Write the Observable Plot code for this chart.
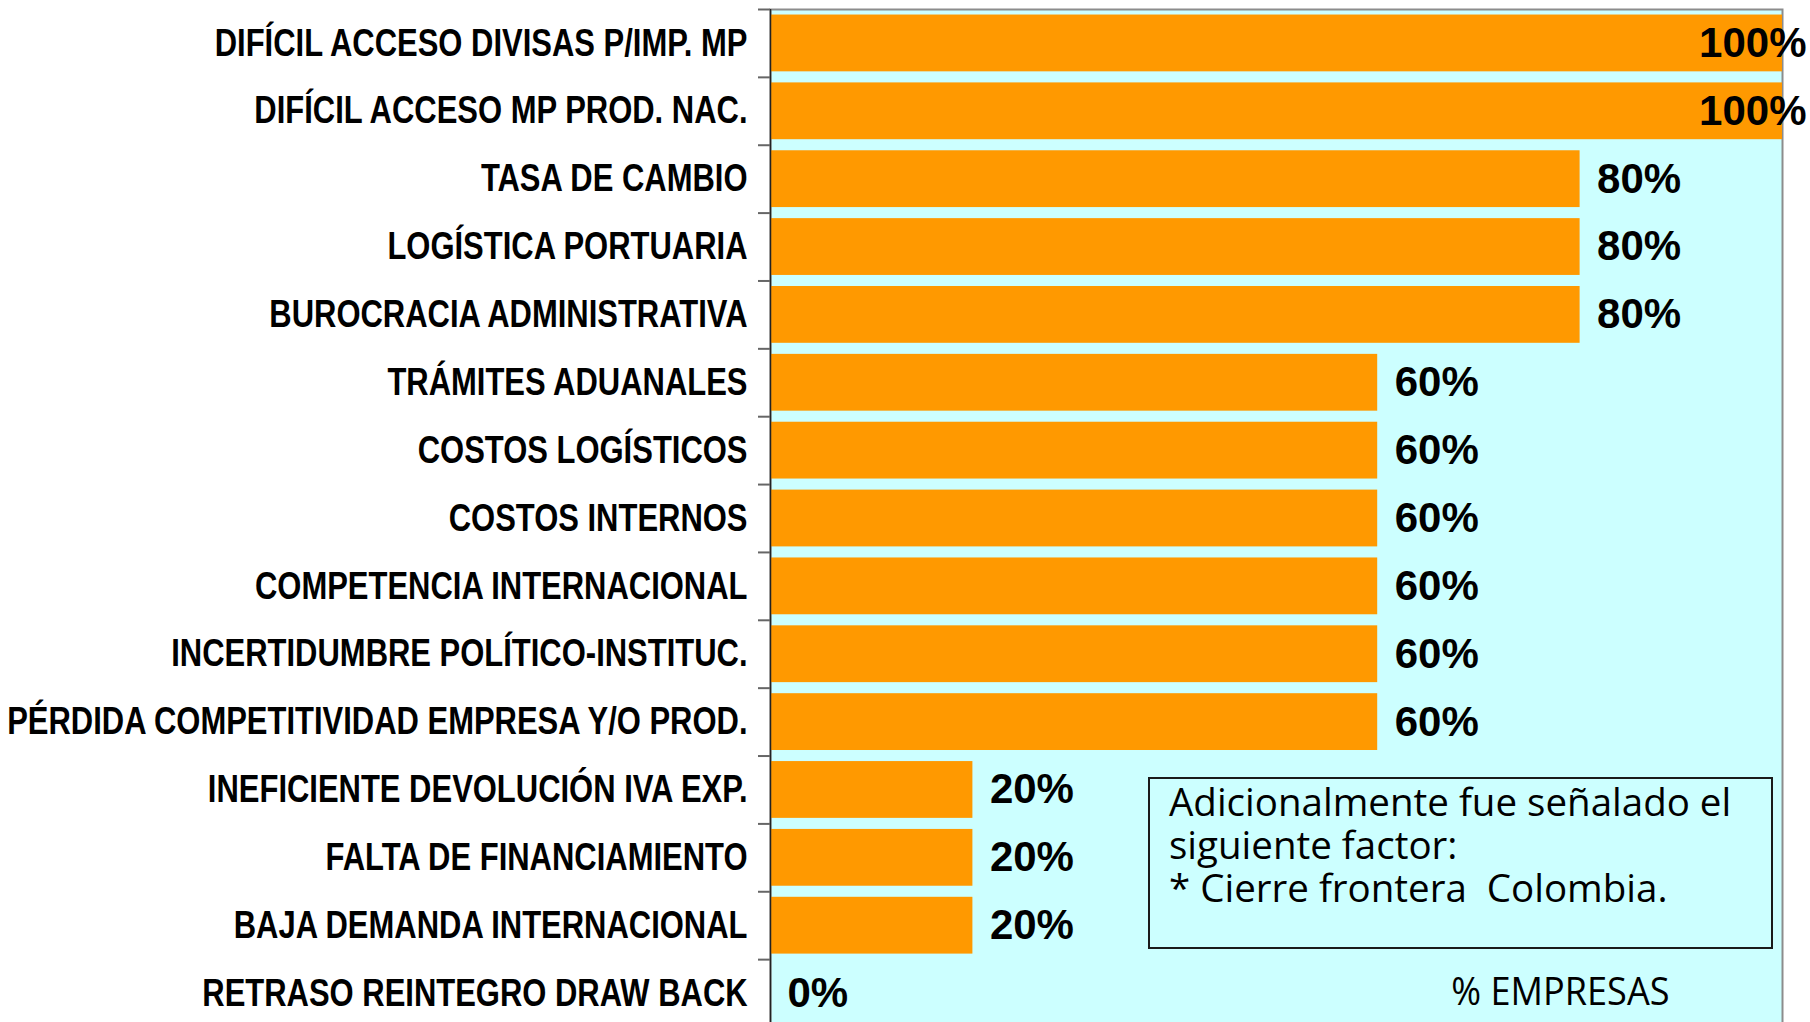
<!DOCTYPE html>
<html>
<head>
<meta charset="utf-8">
<script src="https://cdn.jsdelivr.net/npm/d3@7"></script>
<script src="https://cdn.jsdelivr.net/npm/@observablehq/plot@0.6"></script>
<style>
  html, body { margin: 0; padding: 0; background: #ffffff; overflow: hidden; width: 1810px; height: 1022px; }
  #wrap { position: relative; width: 1810px; height: 1022px; overflow: hidden; }
  #note {
    position: absolute; left: 1148px; top: 777px; width: 625px; height: 172px;
    box-sizing: border-box; border: 2px solid #1a1a1a;
    font-family: "Open Sans", "Noto Sans", sans-serif; font-size: 38.5px; line-height: 43px;
    padding: 1px 0 0 19px; color: #000; white-space: pre;
  }
</style>
</head>
<body>
<div id="wrap"></div>
<script>
const categories = [
  "DIFÍCIL ACCESO DIVISAS P/IMP. MP",
  "DIFÍCIL ACCESO MP PROD. NAC.",
  "TASA DE CAMBIO",
  "LOGÍSTICA PORTUARIA",
  "BUROCRACIA ADMINISTRATIVA",
  "TRÁMITES ADUANALES",
  "COSTOS LOGÍSTICOS",
  "COSTOS INTERNOS",
  "COMPETENCIA INTERNACIONAL",
  "INCERTIDUMBRE POLÍTICO-INSTITUC.",
  "PÉRDIDA COMPETITIVIDAD EMPRESA Y/O PROD.",
  "INEFICIENTE DEVOLUCIÓN IVA EXP.",
  "FALTA DE FINANCIAMIENTO",
  "BAJA DEMANDA INTERNACIONAL",
  "RETRASO REINTEGRO DRAW BACK"
];
const values = [100, 100, 80, 80, 80, 60, 60, 60, 60, 60, 60, 20, 20, 20, 0];
const axisLabel = "% EMPRESAS";
const noteLines = [
  "Adicionalmente fue señalado el",
  "siguiente factor:",
  "* Cierre frontera  Colombia."
];

const data = categories.map((c, i) => ({category: c, value: values[i]}));

const W = 1810, H = 1027, mT = 9, mB = 0;
const step = (H - mT - mB) / categories.length;

const arial = "'Liberation Sans', Arial, sans-serif";
const humanist = "'Open Sans', 'Noto Sans', sans-serif";

const chart = Plot.plot({
  width: W,
  height: H,
  marginLeft: 770,
  marginRight: 28,
  marginTop: mT,
  marginBottom: mB,
  style: {background: "transparent", color: "#000"},
  x: {domain: [0, 100], axis: null},
  y: {domain: categories, paddingInner: 0.163, paddingOuter: 0.0815, round: false, axis: null},
  marks: [
    Plot.frame({fill: "#CCFFFF", stroke: null}),
    Plot.frame({stroke: "#8c8c8c", strokeWidth: 2}),
    Plot.barX(data, {y: "category", x: "value", fill: "#FF9900"}),
    Plot.ruleX([0], {stroke: "#222", strokeWidth: 1.5}),
    Plot.axisY({tickSize: 12, tickFormat: () => "", label: null, stroke: "#666", strokeWidth: 2, dy: -step / 2}),
    Plot.axisY({tickSize: 0, tickPadding: 23, label: null, fontFamily: arial, fontWeight: "bold", fontSize: 38, fill: "#000"}),
    Plot.text(data.filter(d => d.value < 100), {
      y: "category", x: "value", text: d => `${d.value}%`,
      textAnchor: "start", dx: 17, fontFamily: arial, fontWeight: "bold", fontSize: 42, fill: "#000"
    }),
    Plot.text(data.filter(d => d.value >= 100), {
      y: "category", x: "value", text: d => `${d.value}%`,
      textAnchor: "end", dx: 24, fontFamily: arial, fontWeight: "bold", fontSize: 42, fill: "#000"
    }),
    Plot.text([axisLabel], {
      frameAnchor: "bottom-right", textAnchor: "end", lineAnchor: "middle",
      dx: -113, dy: -35, fontFamily: humanist, fontSize: 38, fill: "#000"
    })
  ]
});
chart.style.overflow = "visible";
const wrap = document.getElementById("wrap");
wrap.appendChild(chart);

// Horizontally condense end-anchored texts around their right edge (narrow typeface look)
function condense(labels, s) {
  const set = new Set(labels);
  chart.querySelectorAll("text").forEach(t => {
    if (!set.has(t.textContent)) return;
    const bb = t.getBBox();
    const ax = bb.x + bb.width, ay = bb.y + bb.height / 2;
    const tr = t.getAttribute("transform") || "";
    t.setAttribute("transform", `${tr} translate(${ax},${ay}) scale(${s},1) translate(${-ax},${-ay})`);
  });
}
condense(categories, 0.815);
condense([axisLabel], 0.95);

const note = document.createElement("div");
note.id = "note";
note.textContent = noteLines.join("\n");
wrap.appendChild(note);
</script>
</body>
</html>
